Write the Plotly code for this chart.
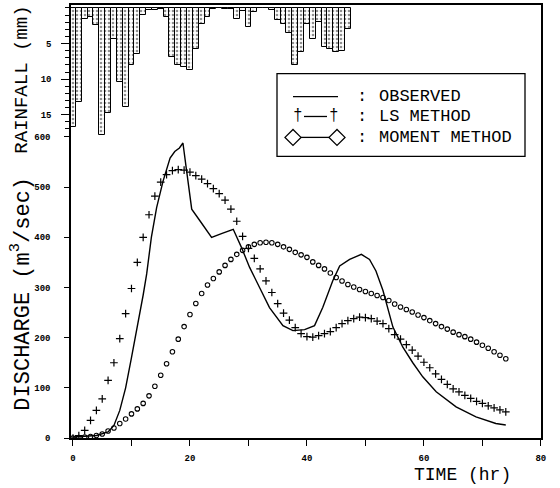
import plotly.graph_objects as go

# ---------------- data ----------------
rain_hour = list(range(0, 48))
rain_mm = [16.7, 13.2, 1.5, 1.3, 2.4, 17.8, 14.8, 4.3, 10.4, 13.9,
           8.0, 6.4, 1.0, 0.3, 0.3, 0.2, 1.3, 6.9, 8.0, 8.3,
           8.7, 5.7, 2.2, 1.3, 0.2, 0.0, 0.1, 0.2, 1.5, 0.4,
           2.7, 0.6, 0.0, 0.0, 0.3, 1.7, 2.2, 3.5, 8.0, 6.2,
           2.2, 4.3, 2.0, 5.5, 5.8, 6.2, 6.0, 3.0]

obs_time = [0, 4, 6, 7, 8, 9, 10, 11, 12, 12.6, 13.4, 14.3, 15.4, 16.6, 17.4, 18.2, 18.8,
            19.4, 20.3, 21.7, 23.7, 25.5, 27.4, 28.8, 30.2, 31.9, 33.6, 35.9, 37.6, 39.6,
            41.3, 42.7, 44.4, 45.6, 47.3, 49.3, 50.7, 51.8, 53.0, 54.7, 56.4, 58.1, 59.8,
            62.1, 65.5, 68.9, 72.3, 74.0]
obs_q = [2, 5, 12, 25, 55, 100, 160, 220, 285, 327, 400, 459, 512, 558, 571, 578, 588,
         535, 456, 433, 400, 408, 416, 380, 340, 300, 260, 224, 214, 216,
         224, 260, 313, 343, 356, 366, 356, 333, 294, 221, 181, 150, 122,
         92, 62, 42, 29, 26]

sim_time = list(range(0, 75))
ls_q = [0, 5, 15, 35, 55, 78, 115, 150, 198, 248,
        298, 350, 400, 445, 482, 510, 525, 533, 535, 534,
        530, 523, 516, 507, 497, 487, 474, 456, 432, 402,
        378, 358, 337, 313, 290, 268, 249, 235, 220, 208,
        202, 201, 204, 208, 212, 220, 228, 234, 238, 241,
        240, 238, 233, 228, 218, 206, 197, 186, 175, 163,
        151, 140, 128, 117, 107, 98, 92, 85, 79, 73,
        69, 64, 60, 56, 52]
mom_q = [0, 1, 2, 3, 5, 8, 14, 20, 29, 38,
         48, 58, 69, 84, 103, 125, 148, 172, 197, 222,
         246, 268, 288, 305, 318, 331, 344, 356, 366, 374,
         381, 386, 389, 390, 389, 386, 381, 376, 370, 365,
         360, 351, 344, 337, 329, 320, 313, 306, 301, 296,
         292, 288, 284, 280, 274, 267, 261, 256, 251, 245,
         240, 234, 228, 222, 217, 211, 206, 202, 197, 191,
         185, 179, 172, 165, 158]

x_ticks = [0, 20, 40, 60, 80]
q_ticks = [0, 100, 200, 300, 400, 500, 600]
rain_ticks = [5, 10, 15]

# ---------------- layout helpers ----------------
W, H = 560, 488
L, R, T, B = 71, 541, 3, 438


def px(x):
    return (x - L) / (R - L)


def py(y):
    return (B - y) / (B - T)


MONO = "Liberation Mono, DejaVu Sans Mono, monospace"

fig = go.Figure()

fig.add_trace(go.Bar(
    x=rain_hour, y=rain_mm, width=1, xaxis="x", yaxis="y2",
    marker=dict(color="white",
                pattern=dict(shape=".", fgcolor="#222", bgcolor="white", size=4, solidity=0.35),
                line=dict(color="black", width=1)),
    showlegend=False, hoverinfo="x+y"))

fig.add_trace(go.Scatter(
    x=obs_time, y=obs_q, mode="lines", line=dict(color="black", width=1.4),
    showlegend=False))

fig.add_trace(go.Scatter(
    x=sim_time, y=ls_q, mode="markers",
    marker=dict(symbol="cross-thin", size=5.5, line=dict(color="black", width=1.2)),
    showlegend=False))

fig.add_trace(go.Scatter(
    x=sim_time, y=mom_q, mode="markers",
    marker=dict(symbol="circle-open", size=4.5, color="black", line=dict(color="black", width=1.1)),
    showlegend=False))

# ---------------- custom legend ----------------
shapes = []
annotations = []
shapes.append(dict(type="rect", xref="paper", yref="paper",
                   x0=px(277), x1=px(525), y0=py(155), y1=py(72),
                   line=dict(color="black", width=1.3), fillcolor="white", layer="above"))
rows = [95, 115, 136]
labels = ["OBSERVED", "LS METHOD", "MOMENT METHOD"]


def ann(x, y, text, size, xanchor="center", angle=0):
    annotations.append(dict(x=px(x), y=py(y), xref="paper", yref="paper", text=text,
                            xanchor=xanchor, yanchor="middle", textangle=angle,
                            showarrow=False, font=dict(family=MONO, size=size, color="black")))


# row 1 symbol
shapes.append(dict(type="line", xref="paper", yref="paper",
                   x0=px(293), x1=px(338), y0=py(rows[0]), y1=py(rows[0]),
                   line=dict(color="black", width=1.3)))
# row 2 symbol
shapes.append(dict(type="line", xref="paper", yref="paper",
                   x0=px(304), x1=px(327), y0=py(rows[1]), y1=py(rows[1]),
                   line=dict(color="black", width=1.3)))
for cx in (298, 334):
    ann(cx, rows[1], "†", 16)
# row 3 symbol
shapes.append(dict(type="line", xref="paper", yref="paper",
                   x0=px(301), x1=px(329), y0=py(rows[2]), y1=py(rows[2]),
                   line=dict(color="black", width=1.3)))
for cx in (293, 337):
    d = 8
    path = "M {} {} L {} {} L {} {} L {} {} Z".format(
        px(cx - d), py(rows[2]), px(cx), py(rows[2] - d),
        px(cx + d), py(rows[2]), px(cx), py(rows[2] + d))
    shapes.append(dict(type="path", xref="paper", yref="paper", path=path,
                       line=dict(color="black", width=1.3), fillcolor="white"))
for ry, lab in zip(rows, labels):
    ann(362, ry, ":", 17)
    ann(377, ry, lab, 17, xanchor="left")

# axis titles
ann(22, 78, "RAINFALL (mm)", 19, angle=-90)
ann(21, 293, "DISCHARGE (m<sup>3</sup>/sec)", 22, angle=-90)
ann(462, 475, "TIME (hr)", 18)

tickfont = dict(family=MONO, size=9, color="black", weight="bold")

fig.update_layout(
    width=W, height=H,
    margin=dict(l=L, r=W - R, t=T, b=H - B),
    paper_bgcolor="white", plot_bgcolor="white",
    showlegend=False, bargap=0,
    font=dict(family=MONO, color="black"),
    shapes=shapes, annotations=annotations,
    xaxis=dict(range=[-0.34, 80.02], tickvals=x_ticks, ticks="outside", ticklen=6,
               tickwidth=1.3, tickcolor="black", tickfont=tickfont, ticklabelstandoff=4,
               minor=dict(dtick=10, ticks="outside", ticklen=6, tickwidth=1.3, tickcolor="black"),
               showline=True, linecolor="black", linewidth=1.5, mirror=True,
               showgrid=False, zeroline=False),
    yaxis=dict(range=[0, 863], tickvals=q_ticks, ticks="outside", ticklen=5,
               tickwidth=1.3, tickcolor="black", tickfont=tickfont, ticklabelstandoff=12,
               showline=True, linecolor="black", linewidth=1.5, mirror=True,
               showgrid=False, zeroline=False),
    yaxis2=dict(domain=[0.699, 1], anchor="x", range=[17.9, -0.42],
                tickvals=rain_ticks, ticks="outside", ticklen=8, tickwidth=1.3,
                tickcolor="black", tickfont=tickfont, ticklabelstandoff=8,
                minor=dict(dtick=1, ticks="outside", ticklen=4, tickwidth=1.1, tickcolor="black"),
                showline=True, linecolor="black", linewidth=1.5,
                showgrid=False, zeroline=False),
)

fig.write_html("out.html", config={"displayModeBar": False},
               post_script="document.body.style.margin='0';")
